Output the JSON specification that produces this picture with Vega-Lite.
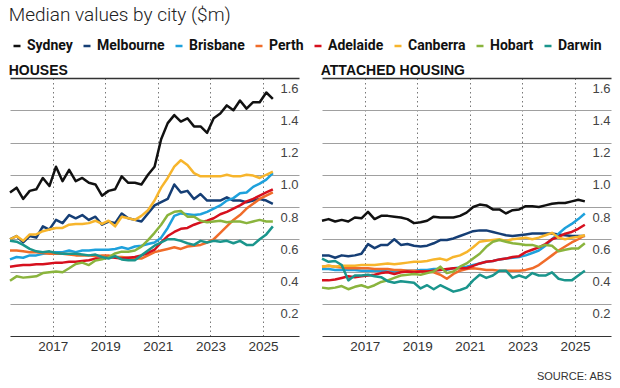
{
"$schema": "https://vega.github.io/schema/vega-lite/v6.json",
"background": "white",
"padding": {"left": 8, "right": 10, "top": 6, "bottom": 2},
"title": {"text": "Median values by city ($m)", "anchor": "start", "fontSize": 19, "font": "Roboto", "fontWeight": 300, "color": "#222222", "offset": 14},
"spacing": 21,
"datasets": {
"houses": [
{"t":2015.375,"c":"Sydney","v":0.89},{"t":2015.625,"c":"Sydney","v":0.92},{"t":2015.875,"c":"Sydney","v":0.85},{"t":2016.125,"c":"Sydney","v":0.90},{"t":2016.375,"c":"Sydney","v":0.91},{"t":2016.625,"c":"Sydney","v":0.98},{"t":2016.875,"c":"Sydney","v":0.93},{"t":2017.125,"c":"Sydney","v":1.05},{"t":2017.375,"c":"Sydney","v":0.96},{"t":2017.625,"c":"Sydney","v":1.03},{"t":2017.875,"c":"Sydney","v":0.96},{"t":2018.125,"c":"Sydney","v":0.98},{"t":2018.375,"c":"Sydney","v":0.95},{"t":2018.625,"c":"Sydney","v":0.94},{"t":2018.875,"c":"Sydney","v":0.87},{"t":2019.125,"c":"Sydney","v":0.90},{"t":2019.375,"c":"Sydney","v":0.91},{"t":2019.625,"c":"Sydney","v":0.99},{"t":2019.875,"c":"Sydney","v":0.95},{"t":2020.125,"c":"Sydney","v":0.95},{"t":2020.375,"c":"Sydney","v":0.94},{"t":2020.625,"c":"Sydney","v":1.00},{"t":2020.875,"c":"Sydney","v":1.05},{"t":2021.125,"c":"Sydney","v":1.22},{"t":2021.375,"c":"Sydney","v":1.32},{"t":2021.625,"c":"Sydney","v":1.37},{"t":2021.875,"c":"Sydney","v":1.33},{"t":2022.125,"c":"Sydney","v":1.35},{"t":2022.375,"c":"Sydney","v":1.30},{"t":2022.625,"c":"Sydney","v":1.30},{"t":2022.875,"c":"Sydney","v":1.26},{"t":2023.125,"c":"Sydney","v":1.35},{"t":2023.375,"c":"Sydney","v":1.38},{"t":2023.625,"c":"Sydney","v":1.43},{"t":2023.875,"c":"Sydney","v":1.40},{"t":2024.125,"c":"Sydney","v":1.46},{"t":2024.375,"c":"Sydney","v":1.41},{"t":2024.625,"c":"Sydney","v":1.45},{"t":2024.875,"c":"Sydney","v":1.45},{"t":2025.125,"c":"Sydney","v":1.51},{"t":2025.375,"c":"Sydney","v":1.47},
{"t":2015.375,"c":"Melbourne","v":0.60},{"t":2015.625,"c":"Melbourne","v":0.62},{"t":2015.875,"c":"Melbourne","v":0.58},{"t":2016.125,"c":"Melbourne","v":0.62},{"t":2016.375,"c":"Melbourne","v":0.61},{"t":2016.625,"c":"Melbourne","v":0.68},{"t":2016.875,"c":"Melbourne","v":0.66},{"t":2017.125,"c":"Melbourne","v":0.72},{"t":2017.375,"c":"Melbourne","v":0.70},{"t":2017.625,"c":"Melbourne","v":0.75},{"t":2017.875,"c":"Melbourne","v":0.73},{"t":2018.125,"c":"Melbourne","v":0.75},{"t":2018.375,"c":"Melbourne","v":0.72},{"t":2018.625,"c":"Melbourne","v":0.74},{"t":2018.875,"c":"Melbourne","v":0.69},{"t":2019.125,"c":"Melbourne","v":0.71},{"t":2019.375,"c":"Melbourne","v":0.70},{"t":2019.625,"c":"Melbourne","v":0.76},{"t":2019.875,"c":"Melbourne","v":0.73},{"t":2020.125,"c":"Melbourne","v":0.72},{"t":2020.375,"c":"Melbourne","v":0.71},{"t":2020.625,"c":"Melbourne","v":0.76},{"t":2020.875,"c":"Melbourne","v":0.81},{"t":2021.125,"c":"Melbourne","v":0.83},{"t":2021.375,"c":"Melbourne","v":0.85},{"t":2021.625,"c":"Melbourne","v":0.94},{"t":2021.875,"c":"Melbourne","v":0.89},{"t":2022.125,"c":"Melbourne","v":0.90},{"t":2022.375,"c":"Melbourne","v":0.85},{"t":2022.625,"c":"Melbourne","v":0.88},{"t":2022.875,"c":"Melbourne","v":0.84},{"t":2023.125,"c":"Melbourne","v":0.84},{"t":2023.375,"c":"Melbourne","v":0.84},{"t":2023.625,"c":"Melbourne","v":0.86},{"t":2023.875,"c":"Melbourne","v":0.84},{"t":2024.125,"c":"Melbourne","v":0.84},{"t":2024.375,"c":"Melbourne","v":0.83},{"t":2024.625,"c":"Melbourne","v":0.84},{"t":2024.875,"c":"Melbourne","v":0.85},{"t":2025.125,"c":"Melbourne","v":0.84},{"t":2025.375,"c":"Melbourne","v":0.82},
{"t":2015.375,"c":"Brisbane","v":0.475},{"t":2015.625,"c":"Brisbane","v":0.49},{"t":2015.875,"c":"Brisbane","v":0.485},{"t":2016.125,"c":"Brisbane","v":0.50},{"t":2016.375,"c":"Brisbane","v":0.50},{"t":2016.625,"c":"Brisbane","v":0.51},{"t":2016.875,"c":"Brisbane","v":0.515},{"t":2017.125,"c":"Brisbane","v":0.52},{"t":2017.375,"c":"Brisbane","v":0.52},{"t":2017.625,"c":"Brisbane","v":0.53},{"t":2017.875,"c":"Brisbane","v":0.52},{"t":2018.125,"c":"Brisbane","v":0.53},{"t":2018.375,"c":"Brisbane","v":0.53},{"t":2018.625,"c":"Brisbane","v":0.535},{"t":2018.875,"c":"Brisbane","v":0.535},{"t":2019.125,"c":"Brisbane","v":0.535},{"t":2019.375,"c":"Brisbane","v":0.54},{"t":2019.625,"c":"Brisbane","v":0.55},{"t":2019.875,"c":"Brisbane","v":0.54},{"t":2020.125,"c":"Brisbane","v":0.555},{"t":2020.375,"c":"Brisbane","v":0.56},{"t":2020.625,"c":"Brisbane","v":0.57},{"t":2020.875,"c":"Brisbane","v":0.58},{"t":2021.125,"c":"Brisbane","v":0.61},{"t":2021.375,"c":"Brisbane","v":0.67},{"t":2021.625,"c":"Brisbane","v":0.745},{"t":2021.875,"c":"Brisbane","v":0.76},{"t":2022.125,"c":"Brisbane","v":0.755},{"t":2022.375,"c":"Brisbane","v":0.75},{"t":2022.625,"c":"Brisbane","v":0.755},{"t":2022.875,"c":"Brisbane","v":0.77},{"t":2023.125,"c":"Brisbane","v":0.79},{"t":2023.375,"c":"Brisbane","v":0.81},{"t":2023.625,"c":"Brisbane","v":0.84},{"t":2023.875,"c":"Brisbane","v":0.855},{"t":2024.125,"c":"Brisbane","v":0.885},{"t":2024.375,"c":"Brisbane","v":0.89},{"t":2024.625,"c":"Brisbane","v":0.925},{"t":2024.875,"c":"Brisbane","v":0.945},{"t":2025.125,"c":"Brisbane","v":0.97},{"t":2025.375,"c":"Brisbane","v":1.01},
{"t":2015.375,"c":"Perth","v":0.53},{"t":2015.625,"c":"Perth","v":0.53},{"t":2015.875,"c":"Perth","v":0.525},{"t":2016.125,"c":"Perth","v":0.52},{"t":2016.375,"c":"Perth","v":0.52},{"t":2016.625,"c":"Perth","v":0.515},{"t":2016.875,"c":"Perth","v":0.51},{"t":2017.125,"c":"Perth","v":0.51},{"t":2017.375,"c":"Perth","v":0.51},{"t":2017.625,"c":"Perth","v":0.505},{"t":2017.875,"c":"Perth","v":0.50},{"t":2018.125,"c":"Perth","v":0.50},{"t":2018.375,"c":"Perth","v":0.50},{"t":2018.625,"c":"Perth","v":0.495},{"t":2018.875,"c":"Perth","v":0.50},{"t":2019.125,"c":"Perth","v":0.50},{"t":2019.375,"c":"Perth","v":0.49},{"t":2019.625,"c":"Perth","v":0.49},{"t":2019.875,"c":"Perth","v":0.485},{"t":2020.125,"c":"Perth","v":0.48},{"t":2020.375,"c":"Perth","v":0.48},{"t":2020.625,"c":"Perth","v":0.50},{"t":2020.875,"c":"Perth","v":0.52},{"t":2021.125,"c":"Perth","v":0.53},{"t":2021.375,"c":"Perth","v":0.54},{"t":2021.625,"c":"Perth","v":0.55},{"t":2021.875,"c":"Perth","v":0.54},{"t":2022.125,"c":"Perth","v":0.555},{"t":2022.375,"c":"Perth","v":0.56},{"t":2022.625,"c":"Perth","v":0.565},{"t":2022.875,"c":"Perth","v":0.58},{"t":2023.125,"c":"Perth","v":0.60},{"t":2023.375,"c":"Perth","v":0.64},{"t":2023.625,"c":"Perth","v":0.68},{"t":2023.875,"c":"Perth","v":0.72},{"t":2024.125,"c":"Perth","v":0.75},{"t":2024.375,"c":"Perth","v":0.79},{"t":2024.625,"c":"Perth","v":0.82},{"t":2024.875,"c":"Perth","v":0.85},{"t":2025.125,"c":"Perth","v":0.87},{"t":2025.375,"c":"Perth","v":0.89},
{"t":2015.375,"c":"Adelaide","v":0.43},{"t":2015.625,"c":"Adelaide","v":0.435},{"t":2015.875,"c":"Adelaide","v":0.44},{"t":2016.125,"c":"Adelaide","v":0.44},{"t":2016.375,"c":"Adelaide","v":0.445},{"t":2016.625,"c":"Adelaide","v":0.445},{"t":2016.875,"c":"Adelaide","v":0.45},{"t":2017.125,"c":"Adelaide","v":0.455},{"t":2017.375,"c":"Adelaide","v":0.455},{"t":2017.625,"c":"Adelaide","v":0.46},{"t":2017.875,"c":"Adelaide","v":0.46},{"t":2018.125,"c":"Adelaide","v":0.465},{"t":2018.375,"c":"Adelaide","v":0.47},{"t":2018.625,"c":"Adelaide","v":0.48},{"t":2018.875,"c":"Adelaide","v":0.48},{"t":2019.125,"c":"Adelaide","v":0.49},{"t":2019.375,"c":"Adelaide","v":0.485},{"t":2019.625,"c":"Adelaide","v":0.48},{"t":2019.875,"c":"Adelaide","v":0.485},{"t":2020.125,"c":"Adelaide","v":0.49},{"t":2020.375,"c":"Adelaide","v":0.50},{"t":2020.625,"c":"Adelaide","v":0.515},{"t":2020.875,"c":"Adelaide","v":0.535},{"t":2021.125,"c":"Adelaide","v":0.58},{"t":2021.375,"c":"Adelaide","v":0.62},{"t":2021.625,"c":"Adelaide","v":0.645},{"t":2021.875,"c":"Adelaide","v":0.665},{"t":2022.125,"c":"Adelaide","v":0.67},{"t":2022.375,"c":"Adelaide","v":0.69},{"t":2022.625,"c":"Adelaide","v":0.705},{"t":2022.875,"c":"Adelaide","v":0.715},{"t":2023.125,"c":"Adelaide","v":0.73},{"t":2023.375,"c":"Adelaide","v":0.755},{"t":2023.625,"c":"Adelaide","v":0.77},{"t":2023.875,"c":"Adelaide","v":0.79},{"t":2024.125,"c":"Adelaide","v":0.81},{"t":2024.375,"c":"Adelaide","v":0.835},{"t":2024.625,"c":"Adelaide","v":0.85},{"t":2024.875,"c":"Adelaide","v":0.87},{"t":2025.125,"c":"Adelaide","v":0.89},{"t":2025.375,"c":"Adelaide","v":0.91},
{"t":2015.375,"c":"Canberra","v":0.60},{"t":2015.625,"c":"Canberra","v":0.62},{"t":2015.875,"c":"Canberra","v":0.59},{"t":2016.125,"c":"Canberra","v":0.63},{"t":2016.375,"c":"Canberra","v":0.63},{"t":2016.625,"c":"Canberra","v":0.65},{"t":2016.875,"c":"Canberra","v":0.66},{"t":2017.125,"c":"Canberra","v":0.67},{"t":2017.375,"c":"Canberra","v":0.67},{"t":2017.625,"c":"Canberra","v":0.69},{"t":2017.875,"c":"Canberra","v":0.695},{"t":2018.125,"c":"Canberra","v":0.695},{"t":2018.375,"c":"Canberra","v":0.70},{"t":2018.625,"c":"Canberra","v":0.715},{"t":2018.875,"c":"Canberra","v":0.695},{"t":2019.125,"c":"Canberra","v":0.715},{"t":2019.375,"c":"Canberra","v":0.68},{"t":2019.625,"c":"Canberra","v":0.74},{"t":2019.875,"c":"Canberra","v":0.73},{"t":2020.125,"c":"Canberra","v":0.72},{"t":2020.375,"c":"Canberra","v":0.745},{"t":2020.625,"c":"Canberra","v":0.78},{"t":2020.875,"c":"Canberra","v":0.84},{"t":2021.125,"c":"Canberra","v":0.92},{"t":2021.375,"c":"Canberra","v":0.98},{"t":2021.625,"c":"Canberra","v":1.05},{"t":2021.875,"c":"Canberra","v":1.09},{"t":2022.125,"c":"Canberra","v":1.06},{"t":2022.375,"c":"Canberra","v":1.01},{"t":2022.625,"c":"Canberra","v":0.99},{"t":2022.875,"c":"Canberra","v":0.99},{"t":2023.125,"c":"Canberra","v":0.99},{"t":2023.375,"c":"Canberra","v":0.99},{"t":2023.625,"c":"Canberra","v":1.00},{"t":2023.875,"c":"Canberra","v":0.99},{"t":2024.125,"c":"Canberra","v":0.99},{"t":2024.375,"c":"Canberra","v":1.00},{"t":2024.625,"c":"Canberra","v":0.995},{"t":2024.875,"c":"Canberra","v":0.98},{"t":2025.125,"c":"Canberra","v":1.00},{"t":2025.375,"c":"Canberra","v":1.02},
{"t":2015.375,"c":"Hobart","v":0.343},{"t":2015.625,"c":"Hobart","v":0.37},{"t":2015.875,"c":"Hobart","v":0.362},{"t":2016.125,"c":"Hobart","v":0.366},{"t":2016.375,"c":"Hobart","v":0.37},{"t":2016.625,"c":"Hobart","v":0.39},{"t":2016.875,"c":"Hobart","v":0.395},{"t":2017.125,"c":"Hobart","v":0.40},{"t":2017.375,"c":"Hobart","v":0.395},{"t":2017.625,"c":"Hobart","v":0.42},{"t":2017.875,"c":"Hobart","v":0.447},{"t":2018.125,"c":"Hobart","v":0.455},{"t":2018.375,"c":"Hobart","v":0.44},{"t":2018.625,"c":"Hobart","v":0.468},{"t":2018.875,"c":"Hobart","v":0.476},{"t":2019.125,"c":"Hobart","v":0.488},{"t":2019.375,"c":"Hobart","v":0.512},{"t":2019.625,"c":"Hobart","v":0.523},{"t":2019.875,"c":"Hobart","v":0.523},{"t":2020.125,"c":"Hobart","v":0.53},{"t":2020.375,"c":"Hobart","v":0.554},{"t":2020.625,"c":"Hobart","v":0.595},{"t":2020.875,"c":"Hobart","v":0.64},{"t":2021.125,"c":"Hobart","v":0.69},{"t":2021.375,"c":"Hobart","v":0.75},{"t":2021.625,"c":"Hobart","v":0.77},{"t":2021.875,"c":"Hobart","v":0.775},{"t":2022.125,"c":"Hobart","v":0.74},{"t":2022.375,"c":"Hobart","v":0.74},{"t":2022.625,"c":"Hobart","v":0.715},{"t":2022.875,"c":"Hobart","v":0.705},{"t":2023.125,"c":"Hobart","v":0.71},{"t":2023.375,"c":"Hobart","v":0.715},{"t":2023.625,"c":"Hobart","v":0.705},{"t":2023.875,"c":"Hobart","v":0.71},{"t":2024.125,"c":"Hobart","v":0.71},{"t":2024.375,"c":"Hobart","v":0.70},{"t":2024.625,"c":"Hobart","v":0.71},{"t":2024.875,"c":"Hobart","v":0.72},{"t":2025.125,"c":"Hobart","v":0.71},{"t":2025.375,"c":"Hobart","v":0.71},
{"t":2015.375,"c":"Darwin","v":0.59},{"t":2015.625,"c":"Darwin","v":0.585},{"t":2015.875,"c":"Darwin","v":0.565},{"t":2016.125,"c":"Darwin","v":0.54},{"t":2016.375,"c":"Darwin","v":0.525},{"t":2016.625,"c":"Darwin","v":0.52},{"t":2016.875,"c":"Darwin","v":0.525},{"t":2017.125,"c":"Darwin","v":0.515},{"t":2017.375,"c":"Darwin","v":0.51},{"t":2017.625,"c":"Darwin","v":0.51},{"t":2017.875,"c":"Darwin","v":0.51},{"t":2018.125,"c":"Darwin","v":0.505},{"t":2018.375,"c":"Darwin","v":0.50},{"t":2018.625,"c":"Darwin","v":0.505},{"t":2018.875,"c":"Darwin","v":0.49},{"t":2019.125,"c":"Darwin","v":0.48},{"t":2019.375,"c":"Darwin","v":0.495},{"t":2019.625,"c":"Darwin","v":0.475},{"t":2019.875,"c":"Darwin","v":0.47},{"t":2020.125,"c":"Darwin","v":0.47},{"t":2020.375,"c":"Darwin","v":0.50},{"t":2020.625,"c":"Darwin","v":0.53},{"t":2020.875,"c":"Darwin","v":0.56},{"t":2021.125,"c":"Darwin","v":0.58},{"t":2021.375,"c":"Darwin","v":0.60},{"t":2021.625,"c":"Darwin","v":0.60},{"t":2021.875,"c":"Darwin","v":0.59},{"t":2022.125,"c":"Darwin","v":0.575},{"t":2022.375,"c":"Darwin","v":0.565},{"t":2022.625,"c":"Darwin","v":0.59},{"t":2022.875,"c":"Darwin","v":0.58},{"t":2023.125,"c":"Darwin","v":0.59},{"t":2023.375,"c":"Darwin","v":0.585},{"t":2023.625,"c":"Darwin","v":0.59},{"t":2023.875,"c":"Darwin","v":0.575},{"t":2024.125,"c":"Darwin","v":0.59},{"t":2024.375,"c":"Darwin","v":0.565},{"t":2024.625,"c":"Darwin","v":0.565},{"t":2024.875,"c":"Darwin","v":0.60},{"t":2025.125,"c":"Darwin","v":0.63},{"t":2025.375,"c":"Darwin","v":0.68}
],
"units": [
{"t":2015.375,"c":"Sydney","v":0.715},{"t":2015.625,"c":"Sydney","v":0.725},{"t":2015.875,"c":"Sydney","v":0.71},{"t":2016.125,"c":"Sydney","v":0.72},{"t":2016.375,"c":"Sydney","v":0.71},{"t":2016.625,"c":"Sydney","v":0.735},{"t":2016.875,"c":"Sydney","v":0.73},{"t":2017.125,"c":"Sydney","v":0.77},{"t":2017.375,"c":"Sydney","v":0.725},{"t":2017.625,"c":"Sydney","v":0.745},{"t":2017.875,"c":"Sydney","v":0.745},{"t":2018.125,"c":"Sydney","v":0.74},{"t":2018.375,"c":"Sydney","v":0.735},{"t":2018.625,"c":"Sydney","v":0.725},{"t":2018.875,"c":"Sydney","v":0.70},{"t":2019.125,"c":"Sydney","v":0.705},{"t":2019.375,"c":"Sydney","v":0.715},{"t":2019.625,"c":"Sydney","v":0.74},{"t":2019.875,"c":"Sydney","v":0.735},{"t":2020.125,"c":"Sydney","v":0.735},{"t":2020.375,"c":"Sydney","v":0.735},{"t":2020.625,"c":"Sydney","v":0.745},{"t":2020.875,"c":"Sydney","v":0.765},{"t":2021.125,"c":"Sydney","v":0.80},{"t":2021.375,"c":"Sydney","v":0.815},{"t":2021.625,"c":"Sydney","v":0.81},{"t":2021.875,"c":"Sydney","v":0.785},{"t":2022.125,"c":"Sydney","v":0.785},{"t":2022.375,"c":"Sydney","v":0.76},{"t":2022.625,"c":"Sydney","v":0.78},{"t":2022.875,"c":"Sydney","v":0.785},{"t":2023.125,"c":"Sydney","v":0.805},{"t":2023.375,"c":"Sydney","v":0.805},{"t":2023.625,"c":"Sydney","v":0.80},{"t":2023.875,"c":"Sydney","v":0.81},{"t":2024.125,"c":"Sydney","v":0.82},{"t":2024.375,"c":"Sydney","v":0.825},{"t":2024.625,"c":"Sydney","v":0.825},{"t":2024.875,"c":"Sydney","v":0.835},{"t":2025.125,"c":"Sydney","v":0.845},{"t":2025.375,"c":"Sydney","v":0.835},
{"t":2015.375,"c":"Melbourne","v":0.50},{"t":2015.625,"c":"Melbourne","v":0.50},{"t":2015.875,"c":"Melbourne","v":0.485},{"t":2016.125,"c":"Melbourne","v":0.50},{"t":2016.375,"c":"Melbourne","v":0.495},{"t":2016.625,"c":"Melbourne","v":0.50},{"t":2016.875,"c":"Melbourne","v":0.51},{"t":2017.125,"c":"Melbourne","v":0.57},{"t":2017.375,"c":"Melbourne","v":0.545},{"t":2017.625,"c":"Melbourne","v":0.565},{"t":2017.875,"c":"Melbourne","v":0.565},{"t":2018.125,"c":"Melbourne","v":0.60},{"t":2018.375,"c":"Melbourne","v":0.565},{"t":2018.625,"c":"Melbourne","v":0.57},{"t":2018.875,"c":"Melbourne","v":0.56},{"t":2019.125,"c":"Melbourne","v":0.555},{"t":2019.375,"c":"Melbourne","v":0.56},{"t":2019.625,"c":"Melbourne","v":0.575},{"t":2019.875,"c":"Melbourne","v":0.595},{"t":2020.125,"c":"Melbourne","v":0.595},{"t":2020.375,"c":"Melbourne","v":0.605},{"t":2020.625,"c":"Melbourne","v":0.62},{"t":2020.875,"c":"Melbourne","v":0.635},{"t":2021.125,"c":"Melbourne","v":0.65},{"t":2021.375,"c":"Melbourne","v":0.655},{"t":2021.625,"c":"Melbourne","v":0.655},{"t":2021.875,"c":"Melbourne","v":0.645},{"t":2022.125,"c":"Melbourne","v":0.635},{"t":2022.375,"c":"Melbourne","v":0.625},{"t":2022.625,"c":"Melbourne","v":0.62},{"t":2022.875,"c":"Melbourne","v":0.625},{"t":2023.125,"c":"Melbourne","v":0.63},{"t":2023.375,"c":"Melbourne","v":0.635},{"t":2023.625,"c":"Melbourne","v":0.635},{"t":2023.875,"c":"Melbourne","v":0.635},{"t":2024.125,"c":"Melbourne","v":0.635},{"t":2024.375,"c":"Melbourne","v":0.63},{"t":2024.625,"c":"Melbourne","v":0.625},{"t":2024.875,"c":"Melbourne","v":0.62},{"t":2025.125,"c":"Melbourne","v":0.62},{"t":2025.375,"c":"Melbourne","v":0.62},
{"t":2015.375,"c":"Brisbane","v":0.415},{"t":2015.625,"c":"Brisbane","v":0.415},{"t":2015.875,"c":"Brisbane","v":0.41},{"t":2016.125,"c":"Brisbane","v":0.41},{"t":2016.375,"c":"Brisbane","v":0.41},{"t":2016.625,"c":"Brisbane","v":0.41},{"t":2016.875,"c":"Brisbane","v":0.405},{"t":2017.125,"c":"Brisbane","v":0.405},{"t":2017.375,"c":"Brisbane","v":0.405},{"t":2017.625,"c":"Brisbane","v":0.405},{"t":2017.875,"c":"Brisbane","v":0.40},{"t":2018.125,"c":"Brisbane","v":0.40},{"t":2018.375,"c":"Brisbane","v":0.405},{"t":2018.625,"c":"Brisbane","v":0.405},{"t":2018.875,"c":"Brisbane","v":0.405},{"t":2019.125,"c":"Brisbane","v":0.41},{"t":2019.375,"c":"Brisbane","v":0.41},{"t":2019.625,"c":"Brisbane","v":0.415},{"t":2019.875,"c":"Brisbane","v":0.415},{"t":2020.125,"c":"Brisbane","v":0.41},{"t":2020.375,"c":"Brisbane","v":0.42},{"t":2020.625,"c":"Brisbane","v":0.425},{"t":2020.875,"c":"Brisbane","v":0.43},{"t":2021.125,"c":"Brisbane","v":0.44},{"t":2021.375,"c":"Brisbane","v":0.45},{"t":2021.625,"c":"Brisbane","v":0.46},{"t":2021.875,"c":"Brisbane","v":0.465},{"t":2022.125,"c":"Brisbane","v":0.475},{"t":2022.375,"c":"Brisbane","v":0.48},{"t":2022.625,"c":"Brisbane","v":0.485},{"t":2022.875,"c":"Brisbane","v":0.49},{"t":2023.125,"c":"Brisbane","v":0.50},{"t":2023.375,"c":"Brisbane","v":0.515},{"t":2023.625,"c":"Brisbane","v":0.53},{"t":2023.875,"c":"Brisbane","v":0.56},{"t":2024.125,"c":"Brisbane","v":0.60},{"t":2024.375,"c":"Brisbane","v":0.635},{"t":2024.625,"c":"Brisbane","v":0.67},{"t":2024.875,"c":"Brisbane","v":0.695},{"t":2025.125,"c":"Brisbane","v":0.725},{"t":2025.375,"c":"Brisbane","v":0.76},
{"t":2015.375,"c":"Perth","v":0.43},{"t":2015.625,"c":"Perth","v":0.435},{"t":2015.875,"c":"Perth","v":0.43},{"t":2016.125,"c":"Perth","v":0.425},{"t":2016.375,"c":"Perth","v":0.42},{"t":2016.625,"c":"Perth","v":0.42},{"t":2016.875,"c":"Perth","v":0.42},{"t":2017.125,"c":"Perth","v":0.42},{"t":2017.375,"c":"Perth","v":0.415},{"t":2017.625,"c":"Perth","v":0.415},{"t":2017.875,"c":"Perth","v":0.415},{"t":2018.125,"c":"Perth","v":0.41},{"t":2018.375,"c":"Perth","v":0.41},{"t":2018.625,"c":"Perth","v":0.405},{"t":2018.875,"c":"Perth","v":0.405},{"t":2019.125,"c":"Perth","v":0.40},{"t":2019.375,"c":"Perth","v":0.40},{"t":2019.625,"c":"Perth","v":0.395},{"t":2019.875,"c":"Perth","v":0.38},{"t":2020.125,"c":"Perth","v":0.355},{"t":2020.375,"c":"Perth","v":0.385},{"t":2020.625,"c":"Perth","v":0.405},{"t":2020.875,"c":"Perth","v":0.415},{"t":2021.125,"c":"Perth","v":0.42},{"t":2021.375,"c":"Perth","v":0.415},{"t":2021.625,"c":"Perth","v":0.41},{"t":2021.875,"c":"Perth","v":0.41},{"t":2022.125,"c":"Perth","v":0.405},{"t":2022.375,"c":"Perth","v":0.405},{"t":2022.625,"c":"Perth","v":0.405},{"t":2022.875,"c":"Perth","v":0.405},{"t":2023.125,"c":"Perth","v":0.41},{"t":2023.375,"c":"Perth","v":0.42},{"t":2023.625,"c":"Perth","v":0.44},{"t":2023.875,"c":"Perth","v":0.47},{"t":2024.125,"c":"Perth","v":0.50},{"t":2024.375,"c":"Perth","v":0.53},{"t":2024.625,"c":"Perth","v":0.555},{"t":2024.875,"c":"Perth","v":0.58},{"t":2025.125,"c":"Perth","v":0.60},{"t":2025.375,"c":"Perth","v":0.625},
{"t":2015.375,"c":"Adelaide","v":0.345},{"t":2015.625,"c":"Adelaide","v":0.345},{"t":2015.875,"c":"Adelaide","v":0.35},{"t":2016.125,"c":"Adelaide","v":0.36},{"t":2016.375,"c":"Adelaide","v":0.37},{"t":2016.625,"c":"Adelaide","v":0.365},{"t":2016.875,"c":"Adelaide","v":0.37},{"t":2017.125,"c":"Adelaide","v":0.375},{"t":2017.375,"c":"Adelaide","v":0.38},{"t":2017.625,"c":"Adelaide","v":0.39},{"t":2017.875,"c":"Adelaide","v":0.395},{"t":2018.125,"c":"Adelaide","v":0.385},{"t":2018.375,"c":"Adelaide","v":0.395},{"t":2018.625,"c":"Adelaide","v":0.40},{"t":2018.875,"c":"Adelaide","v":0.395},{"t":2019.125,"c":"Adelaide","v":0.40},{"t":2019.375,"c":"Adelaide","v":0.40},{"t":2019.625,"c":"Adelaide","v":0.405},{"t":2019.875,"c":"Adelaide","v":0.41},{"t":2020.125,"c":"Adelaide","v":0.415},{"t":2020.375,"c":"Adelaide","v":0.42},{"t":2020.625,"c":"Adelaide","v":0.42},{"t":2020.875,"c":"Adelaide","v":0.42},{"t":2021.125,"c":"Adelaide","v":0.435},{"t":2021.375,"c":"Adelaide","v":0.45},{"t":2021.625,"c":"Adelaide","v":0.46},{"t":2021.875,"c":"Adelaide","v":0.465},{"t":2022.125,"c":"Adelaide","v":0.475},{"t":2022.375,"c":"Adelaide","v":0.48},{"t":2022.625,"c":"Adelaide","v":0.49},{"t":2022.875,"c":"Adelaide","v":0.495},{"t":2023.125,"c":"Adelaide","v":0.52},{"t":2023.375,"c":"Adelaide","v":0.535},{"t":2023.625,"c":"Adelaide","v":0.55},{"t":2023.875,"c":"Adelaide","v":0.57},{"t":2024.125,"c":"Adelaide","v":0.60},{"t":2024.375,"c":"Adelaide","v":0.615},{"t":2024.625,"c":"Adelaide","v":0.635},{"t":2024.875,"c":"Adelaide","v":0.645},{"t":2025.125,"c":"Adelaide","v":0.665},{"t":2025.375,"c":"Adelaide","v":0.69},
{"t":2015.375,"c":"Canberra","v":0.43},{"t":2015.625,"c":"Canberra","v":0.435},{"t":2015.875,"c":"Canberra","v":0.43},{"t":2016.125,"c":"Canberra","v":0.435},{"t":2016.375,"c":"Canberra","v":0.435},{"t":2016.625,"c":"Canberra","v":0.435},{"t":2016.875,"c":"Canberra","v":0.44},{"t":2017.125,"c":"Canberra","v":0.44},{"t":2017.375,"c":"Canberra","v":0.44},{"t":2017.625,"c":"Canberra","v":0.445},{"t":2017.875,"c":"Canberra","v":0.45},{"t":2018.125,"c":"Canberra","v":0.445},{"t":2018.375,"c":"Canberra","v":0.45},{"t":2018.625,"c":"Canberra","v":0.455},{"t":2018.875,"c":"Canberra","v":0.46},{"t":2019.125,"c":"Canberra","v":0.46},{"t":2019.375,"c":"Canberra","v":0.465},{"t":2019.625,"c":"Canberra","v":0.475},{"t":2019.875,"c":"Canberra","v":0.48},{"t":2020.125,"c":"Canberra","v":0.47},{"t":2020.375,"c":"Canberra","v":0.49},{"t":2020.625,"c":"Canberra","v":0.50},{"t":2020.875,"c":"Canberra","v":0.52},{"t":2021.125,"c":"Canberra","v":0.55},{"t":2021.375,"c":"Canberra","v":0.585},{"t":2021.625,"c":"Canberra","v":0.59},{"t":2021.875,"c":"Canberra","v":0.595},{"t":2022.125,"c":"Canberra","v":0.60},{"t":2022.375,"c":"Canberra","v":0.59},{"t":2022.625,"c":"Canberra","v":0.60},{"t":2022.875,"c":"Canberra","v":0.605},{"t":2023.125,"c":"Canberra","v":0.61},{"t":2023.375,"c":"Canberra","v":0.60},{"t":2023.625,"c":"Canberra","v":0.61},{"t":2023.875,"c":"Canberra","v":0.625},{"t":2024.125,"c":"Canberra","v":0.64},{"t":2024.375,"c":"Canberra","v":0.61},{"t":2024.625,"c":"Canberra","v":0.60},{"t":2024.875,"c":"Canberra","v":0.61},{"t":2025.125,"c":"Canberra","v":0.615},{"t":2025.375,"c":"Canberra","v":0.625},
{"t":2015.375,"c":"Hobart","v":0.30},{"t":2015.625,"c":"Hobart","v":0.295},{"t":2015.875,"c":"Hobart","v":0.30},{"t":2016.125,"c":"Hobart","v":0.31},{"t":2016.375,"c":"Hobart","v":0.29},{"t":2016.625,"c":"Hobart","v":0.305},{"t":2016.875,"c":"Hobart","v":0.315},{"t":2017.125,"c":"Hobart","v":0.30},{"t":2017.375,"c":"Hobart","v":0.315},{"t":2017.625,"c":"Hobart","v":0.335},{"t":2017.875,"c":"Hobart","v":0.345},{"t":2018.125,"c":"Hobart","v":0.36},{"t":2018.375,"c":"Hobart","v":0.375},{"t":2018.625,"c":"Hobart","v":0.38},{"t":2018.875,"c":"Hobart","v":0.385},{"t":2019.125,"c":"Hobart","v":0.38},{"t":2019.375,"c":"Hobart","v":0.39},{"t":2019.625,"c":"Hobart","v":0.40},{"t":2019.875,"c":"Hobart","v":0.43},{"t":2020.125,"c":"Hobart","v":0.39},{"t":2020.375,"c":"Hobart","v":0.40},{"t":2020.625,"c":"Hobart","v":0.43},{"t":2020.875,"c":"Hobart","v":0.45},{"t":2021.125,"c":"Hobart","v":0.48},{"t":2021.375,"c":"Hobart","v":0.51},{"t":2021.625,"c":"Hobart","v":0.553},{"t":2021.875,"c":"Hobart","v":0.585},{"t":2022.125,"c":"Hobart","v":0.595},{"t":2022.375,"c":"Hobart","v":0.585},{"t":2022.625,"c":"Hobart","v":0.575},{"t":2022.875,"c":"Hobart","v":0.57},{"t":2023.125,"c":"Hobart","v":0.565},{"t":2023.375,"c":"Hobart","v":0.565},{"t":2023.625,"c":"Hobart","v":0.553},{"t":2023.875,"c":"Hobart","v":0.565},{"t":2024.125,"c":"Hobart","v":0.56},{"t":2024.375,"c":"Hobart","v":0.525},{"t":2024.625,"c":"Hobart","v":0.535},{"t":2024.875,"c":"Hobart","v":0.543},{"t":2025.125,"c":"Hobart","v":0.543},{"t":2025.375,"c":"Hobart","v":0.575},
{"t":2015.375,"c":"Darwin","v":0.48},{"t":2015.625,"c":"Darwin","v":0.46},{"t":2015.875,"c":"Darwin","v":0.465},{"t":2016.125,"c":"Darwin","v":0.44},{"t":2016.375,"c":"Darwin","v":0.345},{"t":2016.625,"c":"Darwin","v":0.375},{"t":2016.875,"c":"Darwin","v":0.375},{"t":2017.125,"c":"Darwin","v":0.38},{"t":2017.375,"c":"Darwin","v":0.37},{"t":2017.625,"c":"Darwin","v":0.365},{"t":2017.875,"c":"Darwin","v":0.34},{"t":2018.125,"c":"Darwin","v":0.33},{"t":2018.375,"c":"Darwin","v":0.34},{"t":2018.625,"c":"Darwin","v":0.335},{"t":2018.875,"c":"Darwin","v":0.33},{"t":2019.125,"c":"Darwin","v":0.295},{"t":2019.375,"c":"Darwin","v":0.315},{"t":2019.625,"c":"Darwin","v":0.29},{"t":2019.875,"c":"Darwin","v":0.315},{"t":2020.125,"c":"Darwin","v":0.295},{"t":2020.375,"c":"Darwin","v":0.275},{"t":2020.625,"c":"Darwin","v":0.285},{"t":2020.875,"c":"Darwin","v":0.30},{"t":2021.125,"c":"Darwin","v":0.345},{"t":2021.375,"c":"Darwin","v":0.38},{"t":2021.625,"c":"Darwin","v":0.36},{"t":2021.875,"c":"Darwin","v":0.375},{"t":2022.125,"c":"Darwin","v":0.405},{"t":2022.375,"c":"Darwin","v":0.405},{"t":2022.625,"c":"Darwin","v":0.36},{"t":2022.875,"c":"Darwin","v":0.375},{"t":2023.125,"c":"Darwin","v":0.36},{"t":2023.375,"c":"Darwin","v":0.39},{"t":2023.625,"c":"Darwin","v":0.375},{"t":2023.875,"c":"Darwin","v":0.375},{"t":2024.125,"c":"Darwin","v":0.395},{"t":2024.375,"c":"Darwin","v":0.355},{"t":2024.625,"c":"Darwin","v":0.345},{"t":2024.875,"c":"Darwin","v":0.345},{"t":2025.125,"c":"Darwin","v":0.375},{"t":2025.375,"c":"Darwin","v":0.405}
]
},
"hconcat": [
{
"width": 289, "height": 258,
"title": {"text": "HOUSES", "anchor": "start", "font": "Liberation Sans", "fontSize": 14, "fontWeight": "bold", "color": "#111111", "offset": 0},
"data": {"name": "houses"},
"mark": {"type": "line", "strokeWidth": 2.5, "strokeJoin": "round"},
"encoding": {
"x": {"field": "t", "type": "quantitative", "scale": {"domain": [2015.375, 2026.37], "nice": false, "zero": false},
 "axis": {"title": null, "values": [2017, 2019, 2021, 2023, 2025], "format": "d", "ticks": false, "labelPadding": 3, "labelFont": "Liberation Sans", "labelFontSize": 13.5, "labelColor": "#333333", "domain": true, "domainColor": "#333333", "domainWidth": 1, "grid": true, "gridColor": "#777777", "gridDash": [1.5, 3], "gridWidth": 1}},
"y": {"field": "v", "type": "quantitative", "scale": {"domain": [0, 1.6], "nice": false},
 "axis": {"title": null, "orient": "right", "values": [0.2, 0.4, 0.6, 0.8, 1.0, 1.2, 1.4, 1.6], "format": ".1f", "ticks": false, "tickSize": 0, "domain": false, "labelAlign": "right", "labelBaseline": "top", "labelPadding": -1, "labelOffset": 4, "labelFont": "Liberation Sans", "labelFontSize": 13, "labelColor": "#444444", "grid": true, "gridColor": {"condition": {"test": "datum.value > 1.55", "value": "#333333"}, "value": "#a0a0a0"}, "gridWidth": {"condition": {"test": "datum.value > 1.55", "value": 1.5}, "value": 1}}},
"color": {"field": "c", "type": "nominal", "sort": null,
 "scale": {"domain": ["Sydney", "Melbourne", "Brisbane", "Perth", "Adelaide", "Canberra", "Hobart", "Darwin"], "range": ["#111111", "#153e75", "#1ea1dc", "#f06c2a", "#d6101e", "#f7b52c", "#8ab43d", "#1a958c"]},
 "legend": {"title": null, "orient": "top", "direction": "horizontal", "symbolType": "stroke", "symbolSize": 49, "symbolStrokeWidth": 2.5, "labelFont": "Roboto", "labelFontSize": 14, "labelFontWeight": "bold", "labelColor": "#111111", "columnPadding": 5, "labelOffset": 3, "offset": 11, "padding": 0}}
}
},
{
"width": 289, "height": 258,
"title": {"text": "ATTACHED HOUSING", "anchor": "start", "font": "Liberation Sans", "fontSize": 14, "fontWeight": "bold", "color": "#111111", "offset": 0},
"data": {"name": "units"},
"mark": {"type": "line", "strokeWidth": 2.5, "strokeJoin": "round"},
"encoding": {
"x": {"field": "t", "type": "quantitative", "scale": {"domain": [2015.375, 2026.37], "nice": false, "zero": false},
 "axis": {"title": "SOURCE: ABS", "titleAnchor": "end", "titleFont": "Liberation Sans", "titleFontSize": 11, "titleFontWeight": "normal", "titleColor": "#333333", "titlePadding": 18, "values": [2017, 2019, 2021, 2023, 2025], "format": "d", "ticks": false, "labelPadding": 3, "labelFont": "Liberation Sans", "labelFontSize": 13.5, "labelColor": "#333333", "domain": true, "domainColor": "#333333", "domainWidth": 1, "grid": true, "gridColor": "#777777", "gridDash": [1.5, 3], "gridWidth": 1}},
"y": {"field": "v", "type": "quantitative", "scale": {"domain": [0, 1.6], "nice": false},
 "axis": {"title": null, "orient": "right", "values": [0.2, 0.4, 0.6, 0.8, 1.0, 1.2, 1.4, 1.6], "format": ".1f", "ticks": false, "tickSize": 0, "domain": false, "labelAlign": "right", "labelBaseline": "top", "labelPadding": -1, "labelOffset": 4, "labelFont": "Liberation Sans", "labelFontSize": 13, "labelColor": "#444444", "grid": true, "gridColor": {"condition": {"test": "datum.value > 1.55", "value": "#333333"}, "value": "#a0a0a0"}, "gridWidth": {"condition": {"test": "datum.value > 1.55", "value": 1.5}, "value": 1}}},
"color": {"field": "c", "type": "nominal", "sort": null,
 "scale": {"domain": ["Sydney", "Melbourne", "Brisbane", "Perth", "Adelaide", "Canberra", "Hobart", "Darwin"], "range": ["#111111", "#153e75", "#1ea1dc", "#f06c2a", "#d6101e", "#f7b52c", "#8ab43d", "#1a958c"]},
 "legend": {"title": null, "orient": "top", "direction": "horizontal", "symbolType": "stroke", "symbolSize": 49, "symbolStrokeWidth": 2.5, "labelFont": "Roboto", "labelFontSize": 14, "labelFontWeight": "bold", "labelColor": "#111111", "columnPadding": 5, "labelOffset": 3, "offset": 11, "padding": 0}}
}
}
],
"config": {"view": {"stroke": null}}
}
